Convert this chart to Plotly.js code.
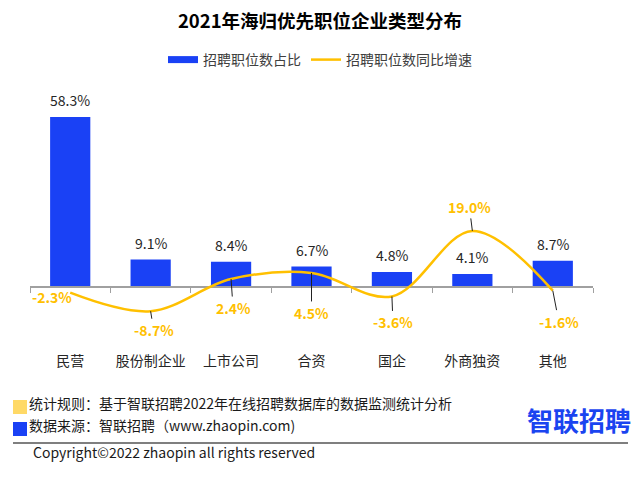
<!DOCTYPE html>
<html><head><meta charset="utf-8">
<script src="https://cdn.plot.ly/plotly-3.0.1.min.js"></script>
<style>html,body{margin:0;padding:0;background:#fff}#chart{width:640px;height:477px}</style>
</head><body><div id="chart"></div>
<script>
// ---- data ----
const categories = ['民营', '股份制企业', '上市公司', '合资', '国企', '外商独资', '其他'];
const shareValues = [58.3, 9.1, 8.4, 6.7, 4.8, 4.1, 8.7];
const growthValues = [-2.3, -8.7, 2.4, 4.5, -3.6, 19.0, -1.6];
const seriesNames = ['招聘职位数占比', '招聘职位数同比增速'];
const titleText = '2021年海归优先职位企业类型分布';
const footerRule = '统计规则：基于智联招聘2022年在线招聘数据库的数据监测统计分析';
const footerSource = '数据来源：智联招聘（www.zhaopin.com)';
const copyrightText = 'Copyright©2022 zhaopin all rights reserved';
const logoText = '智联招聘';

// ---- layout constants ----
const W = 640, H = 477;
const M = {l: 30, r: 47, t: 90, b: 137};
const plotW = W - M.l - M.r, plotH = H - M.t - M.b;
const zeroPx = 286, pxPerUnit = 2.9;
const yMax = (zeroPx - M.t) / pxPerUnit;
const yMin = -(H - M.b - zeroPx) / pxPerUnit;
const px = x => (x - M.l) / plotW;
const py = y => (H - M.b - y) / plotH;

const BLUE = '#1a41f5', GOLD = '#FFC000';
const FONT = '"Noto Sans CJK SC", "Microsoft YaHei", sans-serif';
const fmt = v => v.toFixed(1) + '%';

// label offsets (pixels) for growth labels: [ax, ay]
const growthLabelOffsets = [null, [3, 19], [2, 29], [0, 40], [1, 26], [-3, -24], [6, 31]];

const traces = [
  {type: 'scatter', mode: 'lines', x: [null], y: [null], name: seriesNames[0],
   line: {color: BLUE, width: 7}, legendgroup: 'share', hoverinfo: 'skip'},
  {type: 'bar', x: categories, y: shareValues, name: seriesNames[0], marker: {color: BLUE},
   showlegend: false, legendgroup: 'share'},
  {type: 'scatter', mode: 'lines', x: categories, y: growthValues, name: seriesNames[1],
   line: {color: GOLD, width: 2.5, shape: 'spline', smoothing: 1}}
];

const annotations = [];
categories.forEach((c, i) => {
  annotations.push({x: c, y: shareValues[i], xref: 'x', yref: 'y', text: fmt(shareValues[i]),
    showarrow: false, yanchor: 'middle', yshift: 17, font: {family: FONT, size: 14, color: '#262626'}});
  const off = growthLabelOffsets[i];
  const gfont = {family: FONT, size: 14, color: GOLD, weight: 'bold'};
  if (off) {
    annotations.push({x: c, y: growthValues[i], xref: 'x', yref: 'y', text: fmt(growthValues[i]),
      showarrow: true, arrowhead: 0, arrowwidth: 1, arrowcolor: '#222', ax: off[0], ay: off[1],
      standoff: 0, font: gfont});
  } else {
    annotations.push({x: c, y: growthValues[i], xref: 'x', yref: 'y', text: fmt(growthValues[i]),
      showarrow: false, xshift: -18, yshift: -4, font: gfont});
  }
});
annotations.push(
  {xref: 'paper', yref: 'paper', x: px(27), y: py(403), xanchor: 'left', yanchor: 'middle', showarrow: false,
   text: footerRule, font: {family: FONT, size: 14, color: '#1a1a1a'}},
  {xref: 'paper', yref: 'paper', x: px(27), y: py(425), xanchor: 'left', yanchor: 'middle', showarrow: false,
   text: footerSource, font: {family: FONT, size: 14, color: '#1a1a1a'}},
  {xref: 'paper', yref: 'paper', x: px(31), y: py(452), xanchor: 'left', yanchor: 'middle', showarrow: false,
   text: copyrightText, font: {family: FONT, size: 14, color: '#1a1a1a'}},
  {xref: 'paper', yref: 'paper', x: px(579), y: py(419), xanchor: 'center', yanchor: 'middle', showarrow: false,
   text: logoText, font: {family: FONT, size: 26, color: '#1a44f0', weight: 'bold'}}
);

const shapes = [
  {type: 'rect', xref: 'paper', yref: 'paper', x0: px(13), x1: px(27), y0: py(400), y1: py(414),
   fillcolor: '#FFD966', line: {width: 0}},
  {type: 'rect', xref: 'paper', yref: 'paper', x0: px(13), x1: px(27), y0: py(422), y1: py(436),
   fillcolor: BLUE, line: {width: 0}},
  {type: 'line', xref: 'paper', yref: 'paper', x0: px(13), x1: px(628), y0: py(443), y1: py(443),
   line: {color: '#7f7f7f', width: 2}}
];

const layout = {
  width: W, height: H, margin: M,
  paper_bgcolor: '#fff', plot_bgcolor: '#fff',
  font: {family: FONT, size: 14, color: '#262626'},
  title: {text: titleText, x: 0.5, xref: 'container', xanchor: 'center',
    y: 1 - 22 / H, yref: 'container', yanchor: 'middle',
    font: {family: FONT, size: 18.5, color: '#000', weight: 'bold'}},
  showlegend: true,
  legend: {orientation: 'h', x: 0.5, xref: 'container', xanchor: 'center',
    y: 1 - 60 / H, yref: 'container', yanchor: 'middle',
    font: {family: FONT, size: 14, color: '#404040'}, itemclick: false},
  bargap: 0.5,
  xaxis: {type: 'category', anchor: 'free', position: (H - M.b - zeroPx) / plotH,
    showline: true, linecolor: '#a0a0a0', linewidth: 1.5, ticks: 'outside', tickson: 'boundaries',
    ticklen: 5, tickcolor: '#a0a0a0', tickwidth: 1, ticklabelstandoff: 62, showgrid: false,
    layer: 'below traces', tickfont: {family: FONT, size: 14, color: '#262626'}, fixedrange: true},
  yaxis: {range: [yMin, yMax], visible: false, showgrid: false, zeroline: false, fixedrange: true},
  annotations: annotations,
  shapes: shapes
};

Plotly.newPlot('chart', traces, layout, {displayModeBar: false, staticPlot: true});
</script>
</body></html>
